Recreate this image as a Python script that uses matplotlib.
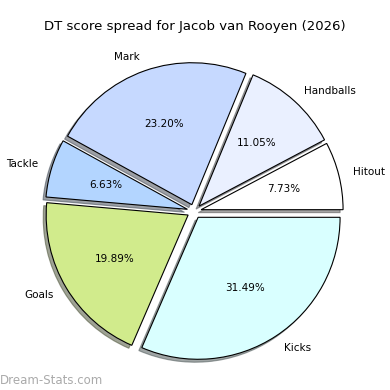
import matplotlib
matplotlib.use("Agg")
from matplotlib import pyplot as plt

# dados do grafico
labels = ["Hitout", "Handballs", "Mark", "Tackle", "Goals", "Kicks"]
values = [7.73, 11.05, 23.20, 6.63, 19.89, 31.49]
colors = ["#ffffff", "#eaf0ff", "#c6d9ff", "#b3d5ff", "#d1eb8c", "#d9ffff"]

fig = plt.figure(figsize=(3.9, 3.9), dpi=100)
ax = fig.add_axes([0.043, 0.003, 0.91, 0.91])

explode = [0.05] * len(values)
wedges, texts, autotexts = ax.pie(values, labels=labels, colors=colors, explode=explode,
                                  autopct="%.2f%%", shadow={"ox": -0.015, "oy": -0.015},
                                  startangle=0,
                                  wedgeprops={"edgecolor": "black", "linewidth": 0.8},
                                  textprops={"fontsize": 7.5})
ax.set_aspect("equal")

fig.suptitle("DT score spread for Jacob van Rooyen (2026)", fontsize=9.5, y=0.948)

#marca d'agua
fig.text(0.0, 0.008, "Dream-Stats.com", color="#aaaaaa", fontsize=8.5, ha="left", va="bottom")

fig.savefig("out.png", dpi=100)
